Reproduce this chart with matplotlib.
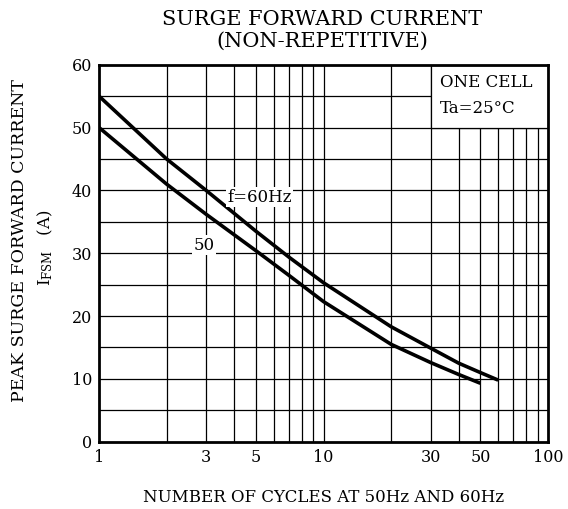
import matplotlib
matplotlib.use("Agg")
import matplotlib.pyplot as plt
from matplotlib.patches import Rectangle

plt.rcParams['font.family'] = ['DejaVu Serif']
plt.rcParams['mathtext.fontset'] = 'dejavuserif'

# data
cycles_60 = [1, 2, 3, 5, 7, 10, 20, 30, 40, 50, 60]
amps_60 = [55, 45, 40, 33.5, 29.4, 25.3, 18.3, 14.9, 12.5, 11.0, 9.8]
cycles_50 = [1, 2, 3, 5, 7, 10, 20, 30, 40, 50]
amps_50 = [50, 41, 36.2, 30.4, 26.5, 22.3, 15.5, 12.6, 10.7, 9.3]

x_labels = {1: "1", 3: "3", 5: "5", 10: "10", 30: "30", 50: "50", 100: "100"}
x_grid = [2, 3, 4, 5, 6, 7, 8, 9, 10, 20, 30, 40, 50, 60, 70, 80, 90]
y_ticks = [0, 10, 20, 30, 40, 50, 60]

fig = plt.figure(figsize=(5.68, 5.09), dpi=100)
ax = fig.add_axes([0.1743, 0.1322, 0.7905, 0.7407])

ax.set_xscale("log")
ax.set_xlim(1, 100)
ax.set_ylim(0, 60)

# grid drawn by hand so the note box can cover part of it
for xv in x_grid:
    ax.axvline(xv, color="black", lw=0.9, zorder=1)
for yv in range(5, 60, 5):
    ax.axhline(yv, color="black", lw=0.9, zorder=1)

# note box in the upper right corner
ax.add_patch(Rectangle((30, 50), 70, 10, facecolor="white", edgecolor="black",
                       lw=0.9, zorder=2))
ax.text(33, 57.2, "ONE CELL", fontsize=12, va="center", ha="left", zorder=4)
ax.text(33, 53.0, "Ta=25°C", fontsize=12, va="center", ha="left", zorder=4)

ax.plot(cycles_60, amps_60, color="black", lw=2.6, zorder=3, solid_capstyle="butt")
ax.plot(cycles_50, amps_50, color="black", lw=2.6, zorder=3, solid_capstyle="butt")

ax.text(5.17, 38.9, "f=60Hz", fontsize=12, ha="center", va="center", zorder=4,
        bbox=dict(facecolor="white", edgecolor="none", pad=1))
ax.text(2.93, 31.3, "50", fontsize=12, ha="center", va="center", zorder=4,
        bbox=dict(facecolor="white", edgecolor="none", pad=1))

ax.set_xticks(list(x_labels.keys()))
ax.set_xticklabels(list(x_labels.values()))
ax.xaxis.set_minor_locator(matplotlib.ticker.NullLocator())
ax.set_yticks(y_ticks)
ax.tick_params(axis="both", length=0, labelsize=11.5, pad=5)

for s in ax.spines.values():
    s.set_linewidth(2)
    s.set_zorder(5)

ax.set_xlabel("NUMBER OF CYCLES AT 50Hz AND 60Hz", fontsize=12, labelpad=17)

fig.text(0.035, 0.527, "PEAK SURGE FORWARD CURRENT", rotation=90, fontsize=12.5,
         ha="center", va="center")
fig.text(0.079, 0.513, r"I$_{\mathrm{FSM}}$   (A)", rotation=90, fontsize=12,
         ha="center", va="center")

fig.text(0.567, 0.962, "SURGE FORWARD CURRENT", fontsize=15, ha="center", va="center")
fig.text(0.567, 0.918, "(NON-REPETITIVE)", fontsize=15, ha="center", va="center")

fig.savefig("out.png", dpi=100)
